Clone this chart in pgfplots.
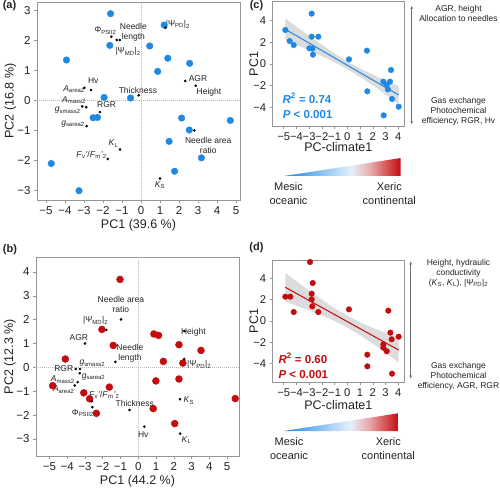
\documentclass[border=0pt]{standalone}
\usepackage{pgfplots}
\pgfplotsset{compat=1.18}
\usepackage{fontspec}
\setmainfont{Liberation Sans}
\usetikzlibrary{arrows.meta}

\definecolor{ptblue}{RGB}{30,136,229}
\definecolor{ptred}{RGB}{196,12,14}
\definecolor{framegray}{RGB}{150,150,150}
\definecolor{bandgray}{RGB}{220,220,220}
\definecolor{arrowgray}{RGB}{110,110,110}
\definecolor{txt}{RGB}{35,35,35}

% climate gradient: mesic oceanic (blue) to xeric continental (red)
\pgfdeclarehorizontalshading{climate}{100bp}{%
  color(0bp)=(ptblue); color(25bp)=(ptblue); color(40bp)=(ptblue!55!white);
  color(54bp)=(ptblue!12!white); color(62bp)=(ptred!35!white);
  color(75bp)=(ptred); color(100bp)=(ptred)}

\newcommand\sub[1]{\textsubscript{#1}}
\newcommand\labfont{\fontsize{8.5}{10}\selectfont}

\tikzset{
  vlab/.style={font=\labfont, inner sep=0pt, align=center, text=txt},
  zeroline/.style={gray!55, line width=0.5pt, dash pattern=on 1pt off 1pt},
  side/.style={font=\labfont, align=center, text=txt},
  pan/.style={font=\bfseries\fontsize{11}{12}\selectfont, text=txt},
  stat/.style={font=\bfseries\fontsize{11.5}{12}\selectfont, anchor=west, inner sep=0pt},
  climlab/.style={font=\fontsize{11}{14}\selectfont, align=center, text=txt},
}

\pgfplotsset{
  panel/.style={
    scale only axis, clip=false,
    axis line style={framegray, line width=0.8pt},
    tick style={framegray, line width=0.6pt},
    tick align=outside, major tick length=3pt,
    xtick pos=bottom, ytick pos=left,
    tick label style={font=\fontsize{11.5}{12}\selectfont, text=txt},
    label style={font=\fontsize{12.5}{14}\selectfont, text=txt},
  },
  pca/.style={panel,
    xtick={-5,...,5}, xticklabels={−5,−4,−3,−2,−1,0,1,2,3,4,5},
    xlabel style={at={([yshift=-25pt]rel axis cs:0.5,0)}, anchor=center},
    ylabel style={at={([xshift=-26.5pt]rel axis cs:0,0.5)}, anchor=center}},
  reg/.style={panel,
    xmin=-5.86, xmax=4.45,
    xtick={-5,...,4}, xticklabels={−5,−4,−3,−2,−1,0,1,2,3,4},
    ytick={-4,-2,0,2,4}, yticklabels={−4,−2,0,2,4},
    tick label style={font=\fontsize{11.2}{12}\selectfont, text=txt},
    xlabel style={at={([yshift=-21.5pt]rel axis cs:0.5,0)}, anchor=center},
    ylabel style={at={([xshift=-19pt]rel axis cs:0,0.5)}, anchor=center},
    xlabel={PC-climate1}, ylabel={PC1}},
}

\begin{document}
\begin{tikzpicture}
\useasboundingbox (0,0) rectangle (500pt,490pt);

% ---------------- (a) PCA, first set ----------------
\begin{axis}[pca, at={(37pt,290pt)}, anchor=south west,
  width=203pt, height=198pt,
  xmin=-5.47, xmax=5.21, ymin=-3.33, ymax=3.29,
  ytick={-3,...,3}, yticklabels={−3,−2,−1,0,1,2,3},
  xlabel={PC1 (39.6 \%)}, ylabel={PC2 (16.8 \%)}]
\draw[zeroline] ({axis cs:0,0}|-{rel axis cs:0,0}) -- ({axis cs:0,0}|-{rel axis cs:0,1});
\draw[zeroline] ({axis cs:0,0}-|{rel axis cs:0,0}) -- ({axis cs:0,0}-|{rel axis cs:1,0});
\addplot[only marks, mark=*, mark size=3.3pt, color=ptblue] coordinates {
  (-1.60,2.90) (1.22,2.52) (-1.64,1.84) (0.46,1.82) (-3.92,1.35)
  (1.41,1.41) (2.56,1.24) (0.88,0.97) (-1.94,0.10) (-0.55,0.08)
  (-2.52,-0.58) (-2.29,-0.57) (2.14,-0.59) (4.70,-0.67) (2.54,-0.99)
  (1.48,-1.37) (3.18,-1.92) (-4.72,-2.11) (1.77,-2.37) (-3.26,-3.02)};
\addplot[only marks, mark=*, mark size=1.1pt, color=black] coordinates {
  (-1.56,2.13) (-1.28,2.02) (-1.12,2.02) (1.29,2.43) (-2.63,0.35)
  (-2.98,0.42) (-0.12,0.17) (2.33,0.65) (2.88,0.49) (-3.09,-0.20)
  (-2.88,-0.23) (-2.16,-0.39) (-2.86,-0.86) (2.81,-1.00) (-1.10,-1.64)
  (-1.75,-1.96) (1.00,-2.61)};
\node[vlab] at (axis cs:-1.87,2.33) {Φ\sub{PSII2}};
\node[vlab] at (axis cs:-0.40,2.27) {Needle\\length};
\node[vlab] at (axis cs:-0.68,1.63) {|Ψ\sub{MD}|\sub{2}};
\node[vlab, anchor=west] at (axis cs:1.30,2.54) {|Ψ\sub{PD}|\sub{2}};
\node[vlab] at (axis cs:-2.51,0.66) {Hv};
\node[vlab, anchor=east] at (axis cs:-2.95,0.37) {\textit{A}\sub{area2}};
\node[vlab] at (axis cs:-0.16,0.33) {Thickness};
\node[vlab] at (axis cs:3.00,0.72) {AGR};
\node[vlab] at (axis cs:3.58,0.27) {Height};
\node[vlab, anchor=east] at (axis cs:-2.89,0.01) {\textit{A}\sub{mass2}};
\node[vlab] at (axis cs:-1.81,-0.15) {RGR};
\node[vlab, anchor=east] at (axis cs:-3.16,-0.33) {\textit{g}\sub{smass2}};
\node[vlab, anchor=east] at (axis cs:-2.95,-0.79) {\textit{g}\sub{sarea2}};
\node[vlab] at (axis cs:3.54,-1.50) {Needle area\\ratio};
\node[vlab] at (axis cs:-1.44,-1.44) {\textit{K}\sub{L}};
\node[vlab] at (axis cs:-2.60,-1.83) {\textit{F}\sub{v}\textit{'}/\textit{F}\sub{m}\textit{'}\sub{2}};
\node[vlab] at (axis cs:1.00,-2.83) {\textit{K}\sub{S}};
\end{axis}

% ---------------- (b) PCA, second set ----------------
\begin{axis}[pca, at={(36pt,34pt)}, anchor=south west,
  width=203pt, height=199pt,
  xmin=-5.76, xmax=5.67, ymin=-3.72, ymax=4.63,
  ytick={-3,...,4}, yticklabels={−3,−2,−1,0,1,2,3,4},
  xlabel={PC1 (44.2 \%)}, ylabel={PC2 (12.3 \%)},
  ylabel style={at={([xshift=-26pt]rel axis cs:0,0.5)}}]
\draw[zeroline] ({axis cs:0,0}|-{rel axis cs:0,0}) -- ({axis cs:0,0}|-{rel axis cs:0,1});
\draw[zeroline] ({axis cs:0,0}-|{rel axis cs:0,0}) -- ({axis cs:0,0}-|{rel axis cs:1,0});
\addplot[only marks, mark=*, mark size=3.5pt, color=ptred] coordinates {
  (-1.03,3.69) (-2.05,1.59) (0.88,1.40) (1.14,1.34) (-1.41,0.92)
  (2.29,0.95) (3.53,0.71) (-4.11,0.35) (1.41,0.25) (2.51,0.18)
  (-4.82,-0.77) (0.99,-0.57) (2.29,-0.49) (-1.63,-0.83) (-3.07,-1.07)
  (-2.74,-1.32) (5.46,-1.31) (0.84,-1.73) (-2.36,-1.93) (2.05,-2.36)};
\addplot[only marks, mark=*, mark size=1.1pt, color=black] coordinates {
  (-0.97,2.01) (-1.80,1.57) (-3.00,1.00) (2.59,1.52) (-1.29,0.23)
  (2.59,0.35) (-3.52,-0.07) (-3.28,-0.07) (-3.30,-0.25) (-3.41,-0.62)
  (-3.58,-0.76) (-2.62,-1.42) (-2.59,-1.67) (-0.50,-1.79) (2.35,-1.34)
  (0.34,-2.49) (2.36,-2.78)};
\node[vlab] at (axis cs:-0.98,2.62) {Needle area\\ratio};
\node[vlab] at (axis cs:-2.40,1.96) {|Ψ\sub{MD}|\sub{2}};
\node[vlab] at (axis cs:-3.35,1.25) {AGR};
\node[vlab] at (axis cs:3.10,1.48) {Height};
\node[vlab] at (axis cs:-0.47,0.57) {Needle\\length};
\node[vlab] at (axis cs:3.43,0.11) {|Ψ\sub{PD}|\sub{2}};
\node[vlab] at (axis cs:-4.20,-0.04) {RGR};
\node[vlab, anchor=west] at (axis cs:-3.32,0.17) {\textit{g}\sub{smass2}};
\node[vlab, anchor=west] at (axis cs:-3.19,-0.39) {\textit{g}\sub{sarea2}};
\node[vlab] at (axis cs:-4.25,-0.52) {\textit{A}\sub{mass2}};
\node[vlab] at (axis cs:-4.20,-0.93) {\textit{A}\sub{area2}};
\node[vlab] at (axis cs:-1.92,-1.16) {\textit{F}\sub{v}\textit{'}/\textit{F}\sub{m}\textit{'}\sub{2}};
\node[vlab] at (axis cs:-3.12,-1.91) {Φ\sub{PSII2}};
\node[vlab] at (axis cs:-0.20,-1.51) {Thickness};
\node[vlab] at (axis cs:2.85,-1.40) {\textit{K}\sub{S}};
\node[vlab] at (axis cs:0.28,-2.81) {Hv};
\node[vlab] at (axis cs:2.72,-3.05) {\textit{K}\sub{L}};
\end{axis}

% ---------------- (c) PC1 of the first set against climate ----------------
\begin{axis}[reg, at={(272.7pt,364pt)}, anchor=south west,
  width=131.3pt, height=124.3pt, ymin=-5.72, ymax=5.75]
\addplot[fill=bandgray, draw=none] coordinates {
  (-4.87,4.20) (-4,3.46) (-3,2.60) (-2,1.77) (-1,0.96) (0,0.23) (1,-0.40)
  (2,-0.98) (3,-1.50) (4.03,-2.01)
  (4.03,-3.71) (3,-2.82) (2,-1.98) (1,-1.20) (0,-0.47) (-1,0.16) (-2,0.73)
  (-3,1.26) (-4,1.76) (-4.87,2.20)} -- cycle;
\addplot[ptblue, line width=1pt] coordinates {(-4.87,3.20) (4.03,-2.86)};
\addplot[only marks, mark=*, mark size=2.8pt, color=ptblue] coordinates {
  (-4.87,3.14) (-2.80,4.65) (-4.53,2.12) (-4.21,1.75) (-2.80,2.52)
  (-2.28,2.52) (-2.98,1.45) (-2.75,1.42) (-2.70,0.86) (0.13,0.43)
  (1.54,1.23) (1.57,-2.52) (3.43,-0.55) (2.83,-1.63) (3.35,-1.63)
  (3.09,-1.94) (3.19,-2.34) (3.51,-3.23) (4.03,-3.94) (2.85,-4.74)};
\node[stat, text=ptblue] at (axis cs:-5.10,-3.17) {\textit{R}\textsuperscript{2} = 0.74};
\node[stat, text=ptblue] at (axis cs:-5.08,-4.65) {\textit{P} < 0.001};
\end{axis}

% ---------------- (d) PC1 of the second set against climate ----------------
\begin{axis}[reg, at={(272.7pt,108pt)}, anchor=south west,
  width=131.3pt, height=122pt, ymin=-5.72, ymax=5.72,
  xlabel style={at={([yshift=-23pt]rel axis cs:0.5,0)}}]
\addplot[fill=bandgray, draw=none] coordinates {
  (-4.87,4.51) (-4,3.73) (-3,2.85) (-2,2.00) (-1,1.20) (0,0.49) (1,-0.12)
  (2,-0.64) (3,-1.11) (4.03,-1.57)
  (4.03,-3.87) (3,-2.97) (2,-2.12) (1,-1.32) (0,-0.61) (-1,0.00) (-2,0.52)
  (-3,0.99) (-4,1.43) (-4.87,1.81)} -- cycle;
\addplot[ptred, line width=1pt] coordinates {(-4.87,3.16) (4.03,-2.72)};
\addplot[only marks, mark=*, mark size=2.8pt, color=ptred] coordinates {
  (-2.93,5.53) (-4.87,2.28) (-4.48,2.28) (-2.72,3.56) (-2.80,2.56)
  (-2.80,2.03) (-2.75,1.38) (-4.21,0.84) (-2.28,0.84) (0.13,1.09)
  (3.22,0.97) (3.38,-1.09) (4.03,-1.47) (3.48,-1.72) (2.83,-2.19)
  (2.83,-2.50) (3.09,-2.84) (1.57,-3.16) (1.57,-4.25) (3.51,-4.94)};
\node[stat, text=ptred] at (axis cs:-5.42,-3.50) {\textit{R}\textsuperscript{2} = 0.60};
\node[stat, text=ptred] at (axis cs:-5.42,-5.00) {\textit{P} < 0.001};
\end{axis}

% panel letters
\node[pan] at (9.5pt,484pt) {(a)};
\node[pan] at (10pt,240.5pt) {(b)};
\node[pan] at (256.5pt,484pt) {(c)};
\node[pan] at (256.5pt,242.5pt) {(d)};

% trait axes beside (c) and (d)
\draw[arrowgray, line width=0.7pt, {Stealth[length=3pt,width=2.6pt]}-{Stealth[length=3pt,width=2.6pt]}]
  (411.7pt,484pt) -- (411.7pt,366pt);
\node[side] at (458.5pt,476.5pt) {AGR, height\\Allocation to needles};
\node[side] at (458.5pt,378.5pt) {Gas exchange\\Photochemical\\efficiency, RGR, Hv};
\draw[arrowgray, line width=0.7pt, {Stealth[length=3pt,width=2.6pt]}-{Stealth[length=3pt,width=2.6pt]}]
  (410.7pt,228.3pt) -- (410.7pt,111.7pt);
\node[side] at (458.5pt,216.7pt) {Height, hydraulic\\conductivity\\(\textit{K}\sub{S}, \textit{K}\sub{L}), |Ψ\sub{PD}|\sub{2}};
\node[side] at (458.5pt,113.7pt) {Gas exchange\\Photochemical\\efficiency, AGR, RGR};

% climate gradient wedges
\shade[shading=climate] (284pt,314pt) -- (400.7pt,314pt) -- (400.7pt,332pt) -- cycle;
\node[climlab] at (288.5pt,296.5pt) {Mesic\\oceanic};
\node[climlab] at (389.3pt,296.5pt) {Xeric\\continental};
\shade[shading=climate] (283.5pt,59pt) -- (398.3pt,59pt) -- (398.3pt,76.7pt) -- cycle;
\node[climlab] at (289pt,41.5pt) {Mesic\\oceanic};
\node[climlab] at (388.3pt,41.5pt) {Xeric\\continental};
\end{tikzpicture}
\end{document}
